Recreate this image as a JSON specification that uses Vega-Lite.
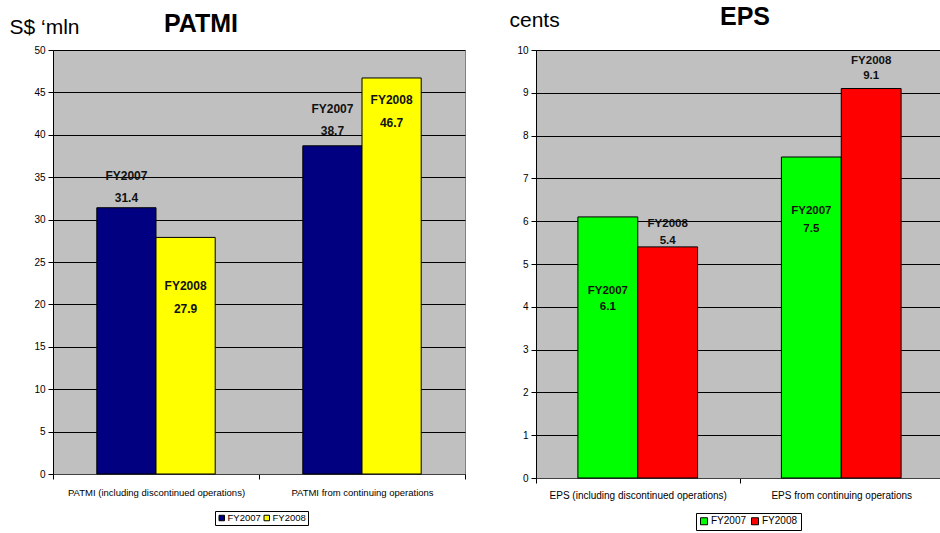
{
  "$schema": "https://vega.github.io/schema/vega-lite/v6.json",
  "padding": {"left": 8, "top": 4, "right": 0, "bottom": 0},
  "spacing": 42,
  "background": "#ffffff",
  "config": {
    "view": {"fill": "#C0C0C0", "stroke": "#808080", "strokeWidth": 1},
    "axis": {"labelColor": "#000", "tickColor": "#000", "domainColor": "#000", "gridColor": "#000", "gridOpacity": 1, "gridWidth": 1, "tickSize": 5, "titleColor": "#000"},
    "legend": {"labelColor": "#000"}
  },
  "resolve": {"scale": {"color": "independent", "x": "independent", "y": "independent", "xOffset": "independent"}},
  "hconcat": [
    {
      "width": 412,
      "height": 424,
      "title": {"text": "PATMI", "frame": "group", "anchor": "start", "dx": 111, "dy": 60, "offset": 19, "baseline": "alphabetic", "fontSize": 25, "fontWeight": "bold", "font": "Liberation Sans", "color": "#000"},
      "data": {"values": [
        {"cat": "PATMI (including discontinued operations)", "year": "FY2007", "value": 31.4},
        {"cat": "PATMI (including discontinued operations)", "year": "FY2008", "value": 27.9},
        {"cat": "PATMI from continuing operations", "year": "FY2007", "value": 38.7},
        {"cat": "PATMI from continuing operations", "year": "FY2008", "value": 46.7}
      ]},
      "encoding": {
        "x": {"field": "cat", "type": "nominal", "sort": null, "scale": {"paddingInner": 0, "paddingOuter": 0},
          "axis": {"title": null, "labelAngle": 0, "labelFont": "Liberation Sans", "labelFontSize": 9.5, "labelPadding": 8, "tickBand": "extent", "grid": false, "domainColor": "#404040", "labelLimit": 300}},
        "y": {"field": "value", "type": "quantitative", "scale": {"domain": [0, 50], "nice": false},
          "axis": {"values": [0, 5, 10, 15, 20, 25, 30, 35, 40, 45, 50], "title": "S$ ‘mln", "titleAngle": 0, "titleAlign": "left", "titleBaseline": "alphabetic", "titleX": -44, "titleY": -17, "titleFont": "Liberation Sans", "titleFontSize": 21, "titleFontWeight": "normal", "labelFont": "Liberation Sans", "labelFontSize": 10, "labelPadding": 3, "grid": true}}
      },
      "layer": [
        {
          "mark": {"type": "bar", "stroke": "#000", "strokeWidth": 1},
          "encoding": {
            "xOffset": {"field": "year", "scale": {"paddingOuter": 0.74, "paddingInner": 0}},
            "color": {"field": "year", "type": "nominal", "scale": {"domain": ["FY2007", "FY2008"], "range": ["#000080", "#FFFF00"]},
              "legend": {"orient": "none", "legendX": 162, "legendY": 461, "direction": "horizontal", "title": null, "strokeColor": "#000", "padding": 2, "symbolType": "square", "symbolSize": 30, "symbolStrokeColor": "#000", "symbolStrokeWidth": 1, "labelFont": "Liberation Sans", "labelFontSize": 9.5, "columnPadding": 1, "labelOffset": 1}}
          }
        },
        {"transform": [{"filter": "datum.value == 31.4"}], "mark": {"type": "text", "baseline": "middle", "dy": -32, "fontWeight": "bold", "fontSize": 12, "font": "Liberation Sans", "color": "#111"}, "encoding": {"xOffset": {"field": "year"}, "text": {"field": "year"}}},
        {"transform": [{"filter": "datum.value == 31.4"}], "mark": {"type": "text", "baseline": "middle", "dy": -10, "fontWeight": "bold", "fontSize": 12, "font": "Liberation Sans", "color": "#111"}, "encoding": {"xOffset": {"field": "year"}, "text": {"field": "value", "format": ".1f"}}},
        {"transform": [{"filter": "datum.value == 27.9"}], "mark": {"type": "text", "baseline": "middle", "dy": 49, "fontWeight": "bold", "fontSize": 12, "font": "Liberation Sans", "color": "#111"}, "encoding": {"xOffset": {"field": "year"}, "text": {"field": "year"}}},
        {"transform": [{"filter": "datum.value == 27.9"}], "mark": {"type": "text", "baseline": "middle", "dy": 72, "fontWeight": "bold", "fontSize": 12, "font": "Liberation Sans", "color": "#111"}, "encoding": {"xOffset": {"field": "year"}, "text": {"field": "value", "format": ".1f"}}},
        {"transform": [{"filter": "datum.value == 38.7"}], "mark": {"type": "text", "baseline": "middle", "dy": -37, "fontWeight": "bold", "fontSize": 12, "font": "Liberation Sans", "color": "#111"}, "encoding": {"xOffset": {"field": "year"}, "text": {"field": "year"}}},
        {"transform": [{"filter": "datum.value == 38.7"}], "mark": {"type": "text", "baseline": "middle", "dy": -15, "fontWeight": "bold", "fontSize": 12, "font": "Liberation Sans", "color": "#111"}, "encoding": {"xOffset": {"field": "year"}, "text": {"field": "value", "format": ".1f"}}},
        {"transform": [{"filter": "datum.value == 46.7"}], "mark": {"type": "text", "baseline": "middle", "dy": 22, "fontWeight": "bold", "fontSize": 12, "font": "Liberation Sans", "color": "#111"}, "encoding": {"xOffset": {"field": "year"}, "text": {"field": "year"}}},
        {"transform": [{"filter": "datum.value == 46.7"}], "mark": {"type": "text", "baseline": "middle", "dy": 45, "fontWeight": "bold", "fontSize": 12, "font": "Liberation Sans", "color": "#111"}, "encoding": {"xOffset": {"field": "year"}, "text": {"field": "value", "format": ".1f"}}}
      ]
    },
    {
      "width": 407,
      "height": 428,
      "title": {"text": "EPS", "frame": "group", "anchor": "start", "dx": 184, "dy": 67, "offset": 26, "baseline": "alphabetic", "fontSize": 25, "fontWeight": "bold", "font": "Liberation Sans", "color": "#000"},
      "data": {"values": [
        {"cat": "EPS (including discontinued operations)", "year": "FY2007", "value": 6.1},
        {"cat": "EPS (including discontinued operations)", "year": "FY2008", "value": 5.4},
        {"cat": "EPS from continuing operations", "year": "FY2007", "value": 7.5},
        {"cat": "EPS from continuing operations", "year": "FY2008", "value": 9.1}
      ]},
      "encoding": {
        "x": {"field": "cat", "type": "nominal", "sort": null, "scale": {"paddingInner": 0, "paddingOuter": 0},
          "axis": {"title": null, "labelAngle": 0, "labelFont": "Liberation Sans", "labelFontSize": 10, "labelPadding": 7, "tickBand": "extent", "grid": false, "domainColor": "#404040", "labelLimit": 300}},
        "y": {"field": "value", "type": "quantitative", "scale": {"domain": [0, 10], "nice": false},
          "axis": {"values": [0, 1, 2, 3, 4, 5, 6, 7, 8, 9, 10], "title": "cents", "titleAngle": 0, "titleAlign": "left", "titleBaseline": "alphabetic", "titleX": -27, "titleY": -24, "titleFont": "Liberation Sans", "titleFontSize": 21, "titleFontWeight": "normal", "labelFont": "Liberation Sans", "labelFontSize": 10, "labelPadding": 3, "grid": true}}
      },
      "layer": [
        {
          "mark": {"type": "bar", "stroke": "#000", "strokeWidth": 1},
          "encoding": {
            "xOffset": {"field": "year", "scale": {"paddingOuter": 0.7, "paddingInner": 0}},
            "color": {"field": "year", "type": "nominal", "scale": {"domain": ["FY2007", "FY2008"], "range": ["#00FF00", "#FF0000"]},
              "legend": {"orient": "none", "legendX": 160, "legendY": 463, "direction": "horizontal", "title": null, "strokeColor": "#000", "padding": 3, "symbolType": "square", "symbolSize": 49, "symbolStrokeColor": "#000", "symbolStrokeWidth": 1, "labelFont": "Liberation Sans", "labelFontSize": 10, "columnPadding": 2, "labelOffset": 2}}
          }
        },
        {"transform": [{"filter": "datum.value == 6.1"}], "mark": {"type": "text", "baseline": "middle", "dy": 74, "fontWeight": "bold", "fontSize": 11.5, "font": "Liberation Sans", "color": "#111"}, "encoding": {"xOffset": {"field": "year"}, "text": {"field": "year"}}},
        {"transform": [{"filter": "datum.value == 6.1"}], "mark": {"type": "text", "baseline": "middle", "dy": 90, "fontWeight": "bold", "fontSize": 11.5, "font": "Liberation Sans", "color": "#111"}, "encoding": {"xOffset": {"field": "year"}, "text": {"field": "value", "format": ".1f"}}},
        {"transform": [{"filter": "datum.value == 5.4"}], "mark": {"type": "text", "baseline": "middle", "dy": -23, "fontWeight": "bold", "fontSize": 11.5, "font": "Liberation Sans", "color": "#111"}, "encoding": {"xOffset": {"field": "year"}, "text": {"field": "year"}}},
        {"transform": [{"filter": "datum.value == 5.4"}], "mark": {"type": "text", "baseline": "middle", "dy": -6, "fontWeight": "bold", "fontSize": 11.5, "font": "Liberation Sans", "color": "#111"}, "encoding": {"xOffset": {"field": "year"}, "text": {"field": "value", "format": ".1f"}}},
        {"transform": [{"filter": "datum.value == 7.5"}], "mark": {"type": "text", "baseline": "middle", "dy": 54, "fontWeight": "bold", "fontSize": 11.5, "font": "Liberation Sans", "color": "#111"}, "encoding": {"xOffset": {"field": "year"}, "text": {"field": "year"}}},
        {"transform": [{"filter": "datum.value == 7.5"}], "mark": {"type": "text", "baseline": "middle", "dy": 72, "fontWeight": "bold", "fontSize": 11.5, "font": "Liberation Sans", "color": "#111"}, "encoding": {"xOffset": {"field": "year"}, "text": {"field": "value", "format": ".1f"}}},
        {"transform": [{"filter": "datum.value == 9.1"}], "mark": {"type": "text", "baseline": "middle", "dy": -28, "fontWeight": "bold", "fontSize": 11.5, "font": "Liberation Sans", "color": "#111"}, "encoding": {"xOffset": {"field": "year"}, "text": {"field": "year"}}},
        {"transform": [{"filter": "datum.value == 9.1"}], "mark": {"type": "text", "baseline": "middle", "dy": -13, "fontWeight": "bold", "fontSize": 11.5, "font": "Liberation Sans", "color": "#111"}, "encoding": {"xOffset": {"field": "year"}, "text": {"field": "value", "format": ".1f"}}}
      ]
    }
  ]
}
